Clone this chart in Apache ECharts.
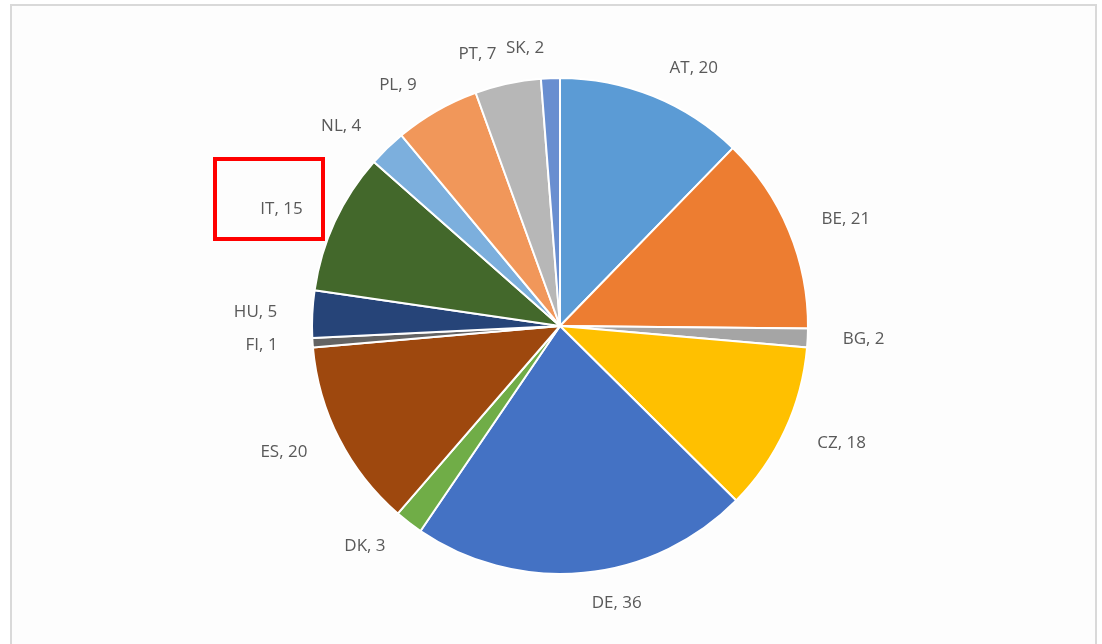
<!DOCTYPE html>
<html>
<head>
<meta charset="utf-8">
<script src="https://cdn.jsdelivr.net/npm/echarts@6/dist/echarts.min.js"></script>
<style>
  html, body { margin: 0; padding: 0; background: #fff; }
  #main { width: 1102px; height: 644px; }
</style>
</head>
<body>
<div id="main"></div>
<script>
// countries and counts
var countries = ['AT', 'BE', 'BG', 'CZ', 'DE', 'DK', 'ES', 'FI', 'HU', 'IT', 'NL', 'PL', 'PT', 'SK'];
var counts = [20, 21, 2, 18, 36, 3, 20, 1, 5, 15, 4, 9, 7, 2];
var colors = ['#5B9BD5', '#ED7D31', '#A5A5A5', '#FFC000', '#4472C4', '#70AD47', '#9E480E',
  '#636363', '#264478', '#43682B', '#7CAFDD', '#F1975A', '#B7B7B7', '#698ED0'];

var myChart = echarts.init(document.getElementById('main'));
myChart.setOption({
  animation: false,
  color: colors,
  graphic: [
    // chart frame
    {
      type: 'rect',
      shape: {x: 11, y: 5, width: 1085, height: 660},
      style: {fill: '#fdfdfd', stroke: '#d9d9d9', lineWidth: 2},
      z: -10
    },
    // highlight box round IT
    {
      type: 'rect',
      shape: {x: 215, y: 159, width: 108, height: 80},
      style: {fill: 'none', stroke: '#ff0000', lineWidth: 4},
      z: 10
    }
  ],
  series: [{
    type: 'pie',
    center: [560, 326],
    radius: 248,
    startAngle: 90,
    clockwise: true,
    avoidLabelOverlap: false,
    itemStyle: {borderColor: '#fff', borderWidth: 2},
    label: {
      show: true,
      position: 'outside',
      formatter: '{b}, {c}',
      color: '#595959',
      fontSize: 17,
      fontFamily: 'Open Sans, sans-serif'
    },
    labelLine: {show: false, length: 30, length2: 0},
    data: countries.map(function (c, i) {
      return {name: c, value: counts[i]};
    })
  }]
});
</script>
</body>
</html>
